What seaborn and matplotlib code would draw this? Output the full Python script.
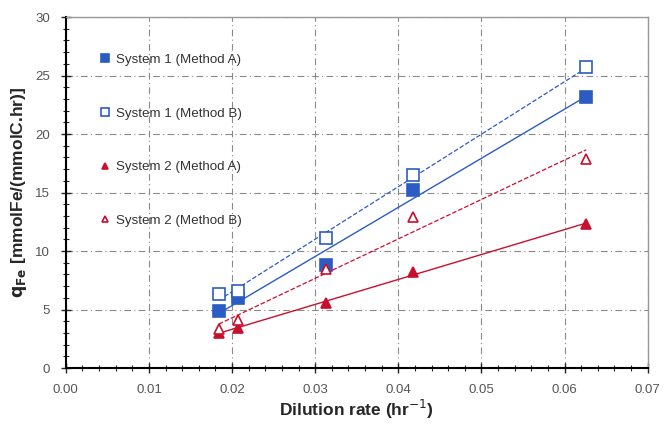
import numpy as np
import matplotlib
matplotlib.use('Agg')
import matplotlib.pyplot as plt
import seaborn as sns

# values
dilution = [0.0184, 0.0207, 0.0313, 0.0418, 0.0626]
sys1_a = [4.9, 6.0, 8.8, 15.2, 23.2]
sys1_b = [6.3, 6.6, 11.1, 16.5, 25.7]
sys2_a = [3.0, 3.4, 5.6, 8.2, 12.3]
sys2_b = [3.3, 4.1, 8.5, 12.9, 17.9]

labels = ["System 1 (Method A)", "System 1 (Method B)",
          "System 2 (Method A)", "System 2 (Method B)"]
blue = "#2B5CC4"
red = "#C8102E"

sns.set_style("white")
plt.rcParams['font.family'] = ['Liberation Sans', 'DejaVu Sans']

fig, ax = plt.subplots(figsize=(6.65, 4.26), dpi=100)
fig.subplots_adjust(left=0.099, right=0.974, bottom=0.136, top=0.96)

series = [
    (sys1_a, blue, 's', True, '-', labels[0]),
    (sys1_b, blue, 's', False, '--', labels[1]),
    (sys2_a, red, '^', True, '-', labels[2]),
    (sys2_b, red, '^', False, '--', labels[3]),
]

for vals, c, m, filled, ls, lab in series:
    # linear fit line over the data range
    sns.regplot(x=dilution, y=vals, ci=None, scatter=False, truncate=True, ax=ax,
                line_kws=dict(color=c, lw=1.0 if ls == '-' else 0.9, ls=ls))
    sns.lineplot(x=dilution, y=vals, ax=ax, marker=m, linestyle='', color=c,
                 markersize=8 if m == 's' else 7,
                 markerfacecolor=c if filled else 'white',
                 markeredgecolor=c, markeredgewidth=1.2, label=lab)

ax.set_xlim(0, 0.07)
ax.set_ylim(0, 30)
ax.set_xticks(np.arange(0, 0.0701, 0.01))
ax.set_xticklabels([f"{v:.2f}" for v in np.arange(0, 0.0701, 0.01)])
ax.set_yticks(np.arange(0, 31, 5))
ax.set_xticks(np.arange(0, 0.0701, 0.002), minor=True)
ax.set_yticks(np.arange(0, 31, 1), minor=True)
ax.tick_params(axis='both', which='major', direction='inout', length=7, width=1,
               labelsize=9.5, labelcolor='#555555', pad=8)
ax.tick_params(axis='both', which='minor', direction='inout', length=4, width=0.8)
ax.tick_params(bottom=True, left=True, which='both')

ax.grid(True, which='major', ls=(0, (6, 3, 1, 3)), lw=0.8, color='#8a8a8a')
for side in ['left', 'bottom']:
    ax.spines[side].set_color('black')
    ax.spines[side].set_linewidth(1.5)
for side in ['top', 'right']:
    ax.spines[side].set_color('#999999')
    ax.spines[side].set_linewidth(1.0)

ax.set_xlabel("Dilution rate (hr$^{-1}$)", fontsize=12.5, fontweight='bold', labelpad=1)
ax.set_ylabel(r"$\mathbf{q_{Fe}}$ [mmolFe/(mmolC.hr)]", fontsize=12.5, fontweight='bold',
              labelpad=4)

ax.legend(loc='upper left', bbox_to_anchor=(0.035, 0.93), frameon=False,
          labelspacing=3.1, handletextpad=0.3, handlelength=1.0, fontsize=9.6,
          markerscale=0.7, labelcolor='#333333')

fig.savefig("out.png", dpi=100)
